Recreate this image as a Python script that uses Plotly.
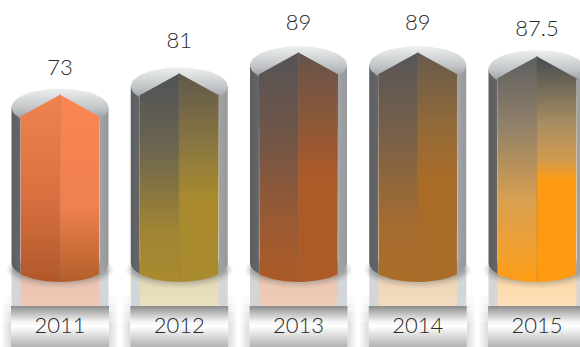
import numpy as np
import plotly.graph_objects as go

# Chart data
years = ["2011", "2012", "2013", "2014", "2015"]
values = [73, 81, 89, 89, 87.5]
label_lift = [19, 25, 22, 22, 20]

# Face colours per cylinder: (position along height, colour) from top to bottom
left_faces = [
    [[0, "#ee8350"], [0.55, "#d87040"], [1, "#b0582a"]],
    [[0, "#4f5357"], [0.35, "#6b6450"], [0.75, "#a08534"], [1, "#a98a2e"]],
    [[0, "#565457"], [0.35, "#6f5548"], [0.75, "#9c5a32"], [1, "#ac5a26"]],
    [[0, "#575558"], [0.35, "#77604a"], [0.75, "#a56c30"], [1, "#aa6c28"]],
    [[0, "#5e5e60"], [0.3, "#8f8069"], [0.64, "#d99f50"], [0.9, "#f5a02a"], [1, "#ff9b12"]],
]
right_faces = [
    [[0, "#fb8553"], [0.6, "#f08050"], [1, "#b2602a"]],
    [[0, "#60584c"], [0.35, "#8a7840"], [0.6, "#a98a2e"], [1, "#a98a2e"]],
    [[0, "#65544c"], [0.3, "#8c5838"], [0.55, "#ae5a28"], [1, "#ae5a26"]],
    [[0, "#665a4e"], [0.3, "#906a3a"], [0.55, "#a96c28"], [1, "#a96c28"]],
    [[0, "#454c52"], [0.3, "#a98e62"], [0.46, "#d09a50"], [0.55, "#ff9b12"], [1, "#ff9b12"]],
]
reflection_tints = [
    ["#f0c8b6", "#e9c0ac"], ["#e8e0c0", "#dfd6b0"], ["#f0cdb8", "#e8c2ac"],
    ["#f2dcc0", "#eccfae"], ["#fde0b8", "#fad39f"],
]

# Pixel geometry of the canvas and the cylinders
WIDTH, HEIGHT = 580, 347
FIRST_CENTER, SPACING = 60, 119.25
PX_PER_UNIT = 2.65
ZERO_PX = 282
HALF_W, FACE_HALF_W, RY = 48.5, 39.5, 19
PEAK_DROP = 6
SHOULDER_DROP = 28
BLOCK_TOP = 306

dx = 1 / SPACING
dy = 1 / PX_PER_UNIT


def px_y(p):
    return (ZERO_PX - p) / PX_PER_UNIT


def poly(xs, ys, colorscale=None, start=None, stop=None, color=None, kind="vertical"):
    t = dict(
        x=list(xs), y=list(ys), mode="lines", line=dict(width=0),
        fill="toself", hoverinfo="skip", showlegend=False,
    )
    if colorscale is not None:
        t["fillgradient"] = dict(type=kind, colorscale=colorscale, start=start, stop=stop)
    else:
        t["fillcolor"] = color
    return go.Scatter(**t)


def arc(cx, cy, rx, ry, a0, a1, n=60):
    a = np.radians(np.linspace(a0, a1, n))
    return cx + rx * np.cos(a), cy + ry * np.sin(a)


def flipped(stops):
    # Gradient stops run bottom to top along the value axis
    return [[1 - s, c] for s, c in stops][::-1]


fig = go.Figure()

# Soft shadow cast by the base blocks into the gaps between them
glow_edges = [(i + 49 * dx, i + 1 - 49 * dx) for i in range(-1, len(years))]
for x0, x1 in glow_edges:
    for top, alpha in [(296, 0.08), (304, 0.09), (312, 0.11), (322, 0.11)]:
        fig.add_trace(poly(
            [x0, x1, x1, x0], [px_y(347), px_y(347), px_y(top), px_y(top)],
            colorscale=[[0, f"rgba(150,150,150,{alpha})"], [0.45, "rgba(150,150,150,0)"],
                        [0.55, "rgba(150,150,150,0)"], [1, f"rgba(150,150,150,{alpha})"]],
            start=x0, stop=x1, kind="horizontal",
        ))

for i, v in enumerate(values):
    cy_top = v - RY * dy
    cy_bot = RY * dy
    wall_l, wall_r = i - HALF_W * dx, i + HALF_W * dx
    face_l, face_r = i - FACE_HALF_W * dx, i + FACE_HALF_W * dx

    # Faint mirror image below the cylinder
    fig.add_trace(poly(
        [wall_l, wall_r, wall_r, wall_l],
        [px_y(BLOCK_TOP), px_y(BLOCK_TOP), cy_bot, cy_bot],
        color="#d3d6d8",
    ))
    fig.add_trace(poly(
        [face_l, face_r, face_r, face_l],
        [px_y(BLOCK_TOP), px_y(BLOCK_TOP), cy_bot, cy_bot],
        colorscale=[[0, reflection_tints[i][0]], [1, reflection_tints[i][1]]],
        start=px_y(BLOCK_TOP), stop=cy_bot,
    ))

    # Blurred contact shadow under the cylinder
    shadow_cy = px_y(270)
    for grow, alpha in [(6, 0.08), (4, 0.10), (2, 0.14), (0, 0.24)]:
        ex, ey = arc(i, shadow_cy, (HALF_W - 1 + grow) * dx, (12 + grow) * dy, 0, 360)
        fig.add_trace(poly(ex, ey, color=f"rgba(110,116,112,{alpha})"))

    # Side walls, whose lower edges follow the base ellipse
    sx, sy = arc(i, cy_bot, HALF_W * dx, RY * dy, 180, 360, n=200)
    mask = sx <= face_l
    fig.add_trace(poly(
        list(sx[mask]) + [face_l, wall_l],
        list(sy[mask]) + [cy_top, cy_top],
        colorscale=[[0, "#5b5d60"], [1, "#64666a"]], start=wall_l, stop=face_l,
        kind="horizontal",
    ))
    mask = sx >= face_r
    fig.add_trace(poly(
        list(sx[mask]) + [wall_r, face_r],
        list(sy[mask]) + [cy_top, cy_top],
        colorscale=[[0, "#a2a3a6"], [1, "#97989b"]], start=face_r, stop=wall_r,
        kind="horizontal",
    ))

    # Cap ellipse
    cx_, cy_ = arc(i, cy_top, HALF_W * dx, RY * dy, 0, 360)
    fig.add_trace(poly(
        cx_, cy_,
        colorscale=[[0, "#7f8487"], [0.45, "#bfc2c4"], [1, "#eef0f0"]],
        start=cy_top - RY * dy, stop=cy_top + RY * dy,
    ))

    # Two front faces meeting at a ridge, with a curved lower edge
    peak = v - PEAK_DROP * dy
    shoulder = v - SHOULDER_DROP * dy
    keep = np.abs(sx - i) <= FACE_HALF_W * dx
    bx, by = sx[keep], sy[keep]
    left = bx <= i + 0.5 * dx
    right = bx >= i - 0.5 * dx
    fig.add_trace(poly(
        [face_l, i + 0.5 * dx] + list(bx[left][::-1]),
        [shoulder, peak] + list(by[left][::-1]),
        colorscale=flipped(left_faces[i]), start=0, stop=peak,
    ))
    fig.add_trace(poly(
        [i - 0.5 * dx, face_r] + list(bx[right][::-1]),
        [peak, shoulder] + list(by[right][::-1]),
        colorscale=flipped(right_faces[i]), start=0, stop=peak,
    ))
    fig.add_trace(go.Scatter(
        x=[i, i], y=[peak, 0], mode="lines",
        line=dict(color="rgba(120,120,120,0.28)", width=1),
        hoverinfo="skip", showlegend=False,
    ))

    # Base block holding the year
    x0, x1 = i - 49 * dx, i + 49 * dx
    fig.add_trace(poly(
        [x0, x1, x1, x0], [px_y(347), px_y(347), px_y(BLOCK_TOP), px_y(BLOCK_TOP)],
        colorscale=[[0, "#b4b4b4"], [0.15, "#c8c8c8"], [0.5, "#ffffff"], [0.62, "#f4f4f4"],
                    [0.88, "#aeaeae"], [1, "#8b8b8b"]],
        start=px_y(347), stop=px_y(BLOCK_TOP),
    ))

FONT = dict(family="Lato", size=22, color="#2a2a2a", weight=300)
fig.add_trace(go.Scatter(
    x=list(range(len(years))),
    y=[v + lift * dy for v, lift in zip(values, label_lift)],
    mode="text", text=[f"{v:g}" for v in values], textfont=FONT,
    textposition="middle center", hoverinfo="skip", showlegend=False,
))
fig.add_trace(go.Scatter(
    x=list(range(len(years))),
    y=[px_y(327)] * len(years),
    mode="text", text=years, textfont=FONT,
    textposition="middle center", hoverinfo="skip", showlegend=False,
))

fig.update_layout(
    width=WIDTH, height=HEIGHT, margin=dict(l=0, r=0, t=0, b=0),
    paper_bgcolor="white", plot_bgcolor="white", showlegend=False,
    xaxis=dict(range=[-FIRST_CENTER * dx, (WIDTH - FIRST_CENTER) * dx], visible=False, fixedrange=True),
    yaxis=dict(range=[px_y(HEIGHT), px_y(0)], visible=False, fixedrange=True),
)
fig.write_html("out.html", config=dict(displayModeBar=False))
